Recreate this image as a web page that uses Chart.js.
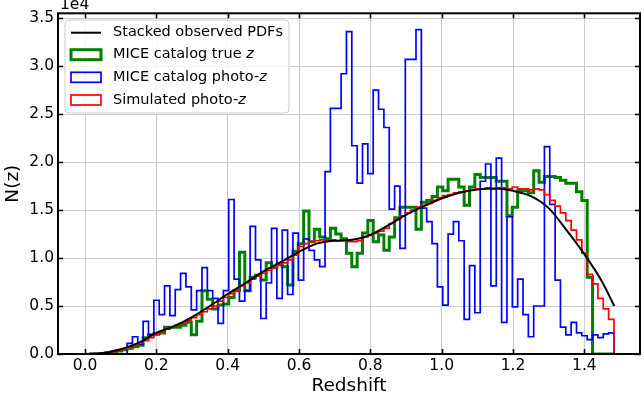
<!DOCTYPE html>
<html>
<head>
<meta charset="utf-8">
<script src="https://cdn.jsdelivr.net/npm/chart.js@4/dist/chart.umd.min.js"></script>
<style>
  html, body { margin: 0; padding: 0; background: #fff; }
  #wrap { width: 644px; height: 399px; }
</style>
</head>
<body>
<div id="wrap"><canvas id="c" width="644" height="399"></canvas></div>
<script>
// ---------- DATA (N(z) in units of 1e4) ----------
const binStart = 0.013;   // first bin edge (redshift)
const binWidth = 0.015;   // bin width (redshift)

const trueZ = [0,0,0.005,0.01,0.02,0.03,0.045,0.06,0.075,0.09,
  0.17,0.20,0.21,0.22,0.28,0.28,0.28,0.30,0.33,0.20,
  0.34,0.66,0.57,0.47,0.51,0.52,0.59,0.66,1.06,0.66,
  0.80,0.82,0.77,0.95,0.90,0.93,0.91,0.72,1.07,1.15,
  1.49,1.17,1.30,1.22,1.20,1.31,1.25,1.20,1.05,0.91,
  1.05,1.26,1.39,1.17,1.24,1.08,1.22,1.42,1.53,1.53,
  1.53,1.30,1.58,1.60,1.64,1.74,1.70,1.82,1.82,1.74,
  1.55,1.74,1.87,1.84,1.84,1.84,1.80,1.80,1.44,1.53,
  1.70,1.70,1.68,1.91,1.79,1.85,1.85,1.84,1.81,1.78,
  1.78,1.69,1.60,0.80,0,0,0,0];

const photoZ = [0,0,0,0,0,0,0,0.11,0.18,0.10,
  0.34,0.20,0.56,0.41,0.71,0.40,0.67,0.84,0.70,0.46,
  0.66,0.90,0.66,0.58,0.32,0.66,1.61,0.78,0.55,0.66,
  1.33,0.98,0.37,0.74,1.31,0.58,1.29,0.62,1.26,0.77,
  1.20,1.08,0.98,0.91,1.90,2.56,2.56,2.92,3.36,2.17,
  1.78,2.19,1.88,2.75,2.55,2.36,1.51,1.75,1.10,3.07,
  3.07,3.38,1.52,1.38,1.15,0.70,0.51,1.25,1.38,1.18,
  0.36,0.92,0.43,1.80,1.98,0.71,2.04,0.33,1.43,0.49,
  0.78,0.41,0.18,0.50,0.50,2.16,1.56,0.77,0.28,0.20,
  0.33,0.22,0.19,0.15,0.20,0.17,0.21,0.22];

const simPhotoZ = [0.002,0.004,0.008,0.015,0.025,0.035,0.05,0.07,0.09,0.12,
  0.14,0.17,0.20,0.23,0.26,0.28,0.30,0.32,0.35,0.38,
  0.41,0.44,0.47,0.50,0.55,0.59,0.63,0.66,0.71,0.74,
  0.78,0.81,0.84,0.87,0.90,0.93,0.95,0.98,1.03,1.12,
  1.15,1.17,1.18,1.19,1.19,1.19,1.18,1.18,1.17,1.17,
  1.18,1.22,1.24,1.26,1.28,1.31,1.36,1.40,1.44,1.47,
  1.50,1.53,1.55,1.57,1.60,1.63,1.65,1.66,1.68,1.69,
  1.70,1.71,1.72,1.72,1.73,1.72,1.73,1.73,1.72,1.74,
  1.72,1.72,1.71,1.72,1.71,1.66,1.60,1.54,1.47,1.39,
  1.29,1.19,1.05,0.83,0.73,0.58,0.47,0.36];

const stackedZ = [0.0,0.05,0.1,0.15,0.2,0.25,0.3,0.35,0.4,0.45,0.5,0.55,0.6,0.65,0.7,0.75,
  0.8,0.85,0.9,0.95,1.0,1.05,1.1,1.15,1.2,1.25,1.3,1.35,1.4,1.45,1.484];
const stackedN = [0,0.01,0.05,0.115,0.22,0.29,0.385,0.50,0.625,0.74,0.86,0.96,1.065,1.15,1.18,1.19,
  1.24,1.34,1.45,1.54,1.62,1.68,1.715,1.725,1.70,1.645,1.52,1.29,1.04,0.75,0.50];

const xTicks = [0.0,0.2,0.4,0.6,0.8,1.0,1.2,1.4];
const yTicks = [0.0,0.5,1.0,1.5,2.0,2.5,3.0,3.5];

// ---------- build step outlines from the bin arrays ----------
function stepPoints(vals) {
  const pts = [{x: binStart, y: 0}];
  vals.forEach((v, k) => {
    const e0 = binStart + k * binWidth, e1 = binStart + (k + 1) * binWidth;
    pts.push({x: e0, y: v});
    pts.push({x: e1, y: v});
  });
  pts.push({x: binStart + vals.length * binWidth, y: 0});
  return pts;
}
const FONT = 'DejaVu Sans';

const legendItems = [
  {type: 'line', color: '#000000', lw: 2, text: ['Stacked observed PDFs']},
  {type: 'rect', color: '#008000', lw: 3, text: ['MICE catalog true ', 'z']},
  {type: 'rect', color: '#0000ff', lw: 1.7, text: ['MICE catalog photo-', 'z']},
  {type: 'rect', color: '#ff0000', lw: 1.7, text: ['Simulated photo-', 'z']},
];

const framePlugin = {
  id: 'frame',
  afterDatasetsDraw(chart) {
    const {ctx, chartArea: a, scales: {x, y}} = chart;
    ctx.save();
    ctx.strokeStyle = '#000';
    ctx.lineWidth = 1.6;
    ctx.beginPath();
    xTicks.forEach(v => {
      const px = Math.round(x.getPixelForValue(v)) + 0.5;
      ctx.moveTo(px, a.bottom); ctx.lineTo(px, a.bottom - 5);
      ctx.moveTo(px, a.top); ctx.lineTo(px, a.top + 5);
    });
    yTicks.forEach(v => {
      const py = Math.round(y.getPixelForValue(v)) + 0.5;
      ctx.moveTo(a.left, py); ctx.lineTo(a.left + 5, py);
      ctx.moveTo(a.right, py); ctx.lineTo(a.right - 5, py);
    });
    ctx.stroke();
    ctx.lineWidth = 2;
    ctx.strokeRect(a.left, a.top, a.right - a.left, a.bottom - a.top);
    ctx.restore();
  },
  afterDraw(chart) {
    const {ctx, chartArea: a} = chart;
    ctx.save();
    // offset text
    ctx.fillStyle = '#000';
    ctx.font = '15.5px "' + FONT + '"';
    ctx.textBaseline = 'alphabetic';
    ctx.textAlign = 'left';
    ctx.fillText('1e4', a.left + 2, 9);
    // legend
    const bx = 65, by = 20, bw = 224, bh = 93, r = 4;
    ctx.beginPath();
    ctx.moveTo(bx + r, by);
    ctx.arcTo(bx + bw, by, bx + bw, by + bh, r);
    ctx.arcTo(bx + bw, by + bh, bx, by + bh, r);
    ctx.arcTo(bx, by + bh, bx, by, r);
    ctx.arcTo(bx, by, bx + bw, by, r);
    ctx.closePath();
    ctx.fillStyle = 'rgba(255,255,255,0.8)';
    ctx.fill();
    ctx.strokeStyle = '#cccccc';
    ctx.lineWidth = 1;
    ctx.stroke();
    const rows = [32.7, 54.7, 77.3, 100];
    legendItems.forEach((it, i) => {
      const cy = rows[i];
      ctx.strokeStyle = it.color;
      ctx.lineWidth = it.lw;
      if (it.type === 'line') {
        ctx.beginPath(); ctx.moveTo(71, cy); ctx.lineTo(101, cy); ctx.stroke();
      } else {
        ctx.strokeRect(71, cy - 5, 30, 10);
      }
      ctx.fillStyle = '#000';
      ctx.textBaseline = 'middle';
      let tx = 113;
      ctx.font = '14.5px "' + FONT + '"';
      ctx.fillText(it.text[0], tx, cy);
      if (it.text[1]) {
        tx += ctx.measureText(it.text[0]).width;
        ctx.font = 'italic 14.5px "' + FONT + '"';
        ctx.fillText(it.text[1], tx, cy);
      }
    });
    ctx.restore();
  }
};

new Chart(document.getElementById('c'), {
  type: 'line',
  data: {
    datasets: [
      {label: 'Stacked observed PDFs', data: stackedZ.map((z, i) => ({x: z, y: stackedN[i]})),
       borderColor: '#000000', borderWidth: 2, pointRadius: 0, cubicInterpolationMode: 'monotone', order: 0},
      {label: 'Simulated photo-z', data: stepPoints(simPhotoZ), borderColor: '#ff0000', borderWidth: 1.7,
       pointRadius: 0, tension: 0, borderJoinStyle: 'miter', order: 1},
      {label: 'MICE catalog photo-z', data: stepPoints(photoZ), borderColor: '#0000ff', borderWidth: 1.7,
       pointRadius: 0, tension: 0, borderJoinStyle: 'miter', order: 2},
      {label: 'MICE catalog true z', data: stepPoints(trueZ), borderColor: '#008000', borderWidth: 3,
       pointRadius: 0, tension: 0, borderJoinStyle: 'miter', order: 3},
    ]
  },
  options: {
    responsive: false,
    animation: false,
    devicePixelRatio: 1,
    layout: {padding: {top: 13, right: 4, left: 0, bottom: 0}},
    plugins: {legend: {display: false}, tooltip: {enabled: false}},
    scales: {
      x: {
        type: 'linear', min: -0.0757, max: 1.556,
        afterBuildTicks: s => { s.ticks = xTicks.map(v => ({value: v})); },
        afterFit: s => { s.height = 45; },
        grid: {color: '#cccccc', lineWidth: 1, drawTicks: false},
        border: {display: false},
        ticks: {font: {family: FONT, size: 15.5}, color: '#000', padding: 3, maxRotation: 0,
                callback: v => Number(v).toFixed(1)},
        title: {display: true, text: 'Redshift', color: '#000', font: {family: FONT, size: 18.5},
                padding: {top: 0, bottom: 1.5}}
      },
      y: {
        type: 'linear', min: 0, max: 3.55,
        afterBuildTicks: s => { s.ticks = yTicks.map(v => ({value: v})); },
        afterFit: s => { s.width = 58; },
        grid: {color: '#cccccc', lineWidth: 1, drawTicks: false},
        border: {display: false},
        ticks: {font: {family: FONT, size: 15.5}, color: '#000', padding: 4,
                callback: v => Number(v).toFixed(1)},
        title: {display: true, text: 'N(z)', color: '#000', font: {family: FONT, size: 18.5},
                padding: {top: 2, bottom: 0}}
      }
    }
  },
  plugins: [framePlugin]
});
</script>
</body>
</html>
